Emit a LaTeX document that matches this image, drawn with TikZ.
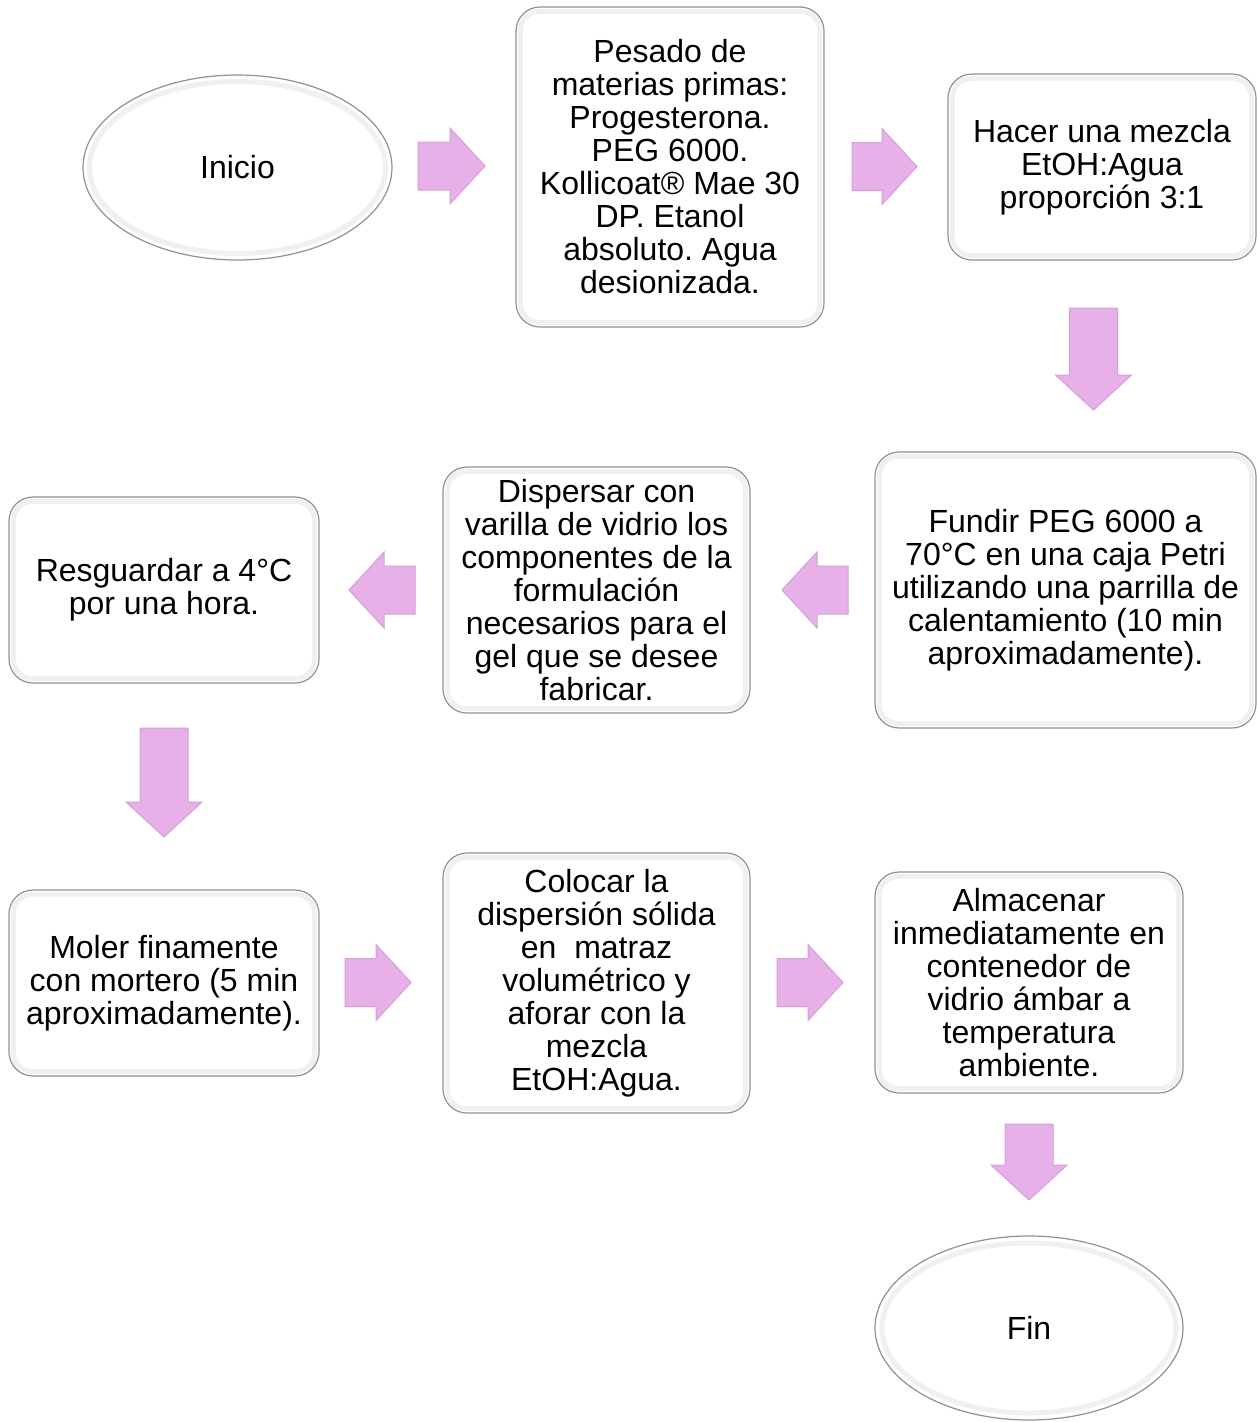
\documentclass[tikz,border=0pt]{standalone}
\usepackage{fontspec}
\setmainfont{Liberation Sans}
\usetikzlibrary{shapes.geometric,calc}
\definecolor{arrowpink}{RGB}{231,176,232}
\definecolor{arrowedge}{RGB}{212,158,214}
\definecolor{boxedge}{RGB}{145,145,145}
\newcommand\blockarr[3]{% center, angle, length
  \draw[blockarrow, shift={(#1)}, rotate=#2]
   ({-#3/2},-24) -- ({#3/2-35},-24) -- ({#3/2-35},-38) -- ({#3/2},0) --
   ({#3/2-35},38) -- ({#3/2-35},24) -- ({-#3/2},24) -- cycle;}
\newcommand\bevelbox[1]{\draw[bevel] ([shift={(5,5)}]#1.north west) rectangle ([shift={(-5,-5)}]#1.south east);}
\frenchspacing
\begin{document}
\begin{tikzpicture}[x=1pt,y=-1pt,
  every node/.style={font=\fontsize{32}{33}\selectfont\frenchspacing, align=center, text=black},
  stepbox/.style={rectangle, draw=boxedge, line width=1.2pt, fill=white, rounded corners=24pt, inner sep=0pt},
  startend/.style={ellipse, draw=boxedge, line width=1.2pt, fill=white, inner sep=0pt},
  bevel/.style={draw=black!6, line width=5pt, rounded corners=19pt},
  blockarrow/.style={fill=arrowpink, draw=arrowedge, line width=1pt, line join=miter}]
\useasboundingbox (0,0) rectangle (1257,1422);

% nodes
\node[startend, minimum width=309pt, minimum height=185pt] (inicio) at (237.5,167.5) {Inicio};
\node[stepbox, minimum width=308pt, minimum height=320pt] (pesado) at (670,167) {Pesado de\\materias primas:\\Progesterona.\\PEG 6000.\\Kollicoat® Mae 30\\DP. Etanol\\absoluto. Agua\\desionizada.};
\node[stepbox, minimum width=308pt, minimum height=186pt] (hacer) at (1102,167) {Hacer una mezcla\\EtOH:Agua\\proporción 3:1};
\node[stepbox, minimum width=381pt, minimum height=276pt] (fundir) at (1065.5,590) {Fundir PEG 6000 a\\70°C en una caja Petri\\utilizando una parrilla de\\calentamiento (10 min\\aproximadamente).};
\node[stepbox, minimum width=307pt, minimum height=246pt] (dispersar) at (596.5,590) {Dispersar con\\varilla de vidrio los\\componentes de la\\formulación\\necesarios para el\\gel que se desee\\fabricar.};
\node[stepbox, minimum width=310pt, minimum height=186pt] (resguardar) at (164,590) {Resguardar a 4°C\\por una hora.};
\node[stepbox, minimum width=310pt, minimum height=186pt] (moler) at (164,983) {Moler finamente\\con mortero (5 min\\aproximadamente).};
\node[stepbox, minimum width=307pt, minimum height=260pt] (colocar) at (596.5,983) {Colocar la\\dispersión sólida\\en\ \ matraz\\volumétrico y\\aforar con la\\mezcla\\EtOH:Agua.};
\node[stepbox, minimum width=308pt, minimum height=221pt] (almacenar) at (1029,982.5) {Almacenar\\inmediatamente en\\contenedor de\\vidrio ámbar a\\temperatura\\ambiente.};
\node[startend, minimum width=308pt, minimum height=184pt] (fin) at (1029,1328) {Fin};

% bevels
\bevelbox{pesado}
\bevelbox{hacer}
\bevelbox{fundir}
\bevelbox{dispersar}
\bevelbox{resguardar}
\bevelbox{moler}
\bevelbox{colocar}
\bevelbox{almacenar}
\draw[bevel] (inicio.center) ellipse [x radius=148pt, y radius=86pt];
\draw[bevel] (fin.center) ellipse [x radius=147pt, y radius=85pt];

% arrow positions
\coordinate (a1) at (451.5,166);
\coordinate (a2) at (884.5,166.5);
\coordinate (a3) at (1093.5,359);
\coordinate (a4) at (815,590);
\coordinate (a5) at (382,590);
\coordinate (a6) at (164,782.5);
\coordinate (a7) at (378,982.5);
\coordinate (a8) at (810,982.5);
\coordinate (a9) at (1029,1162);

\blockarr{a1}{0}{67}
\blockarr{a2}{0}{65}
\blockarr{a3}{-90}{102}
\blockarr{a4}{180}{66}
\blockarr{a5}{180}{66}
\blockarr{a6}{-90}{109}
\blockarr{a7}{0}{66}
\blockarr{a8}{0}{66}
\blockarr{a9}{-90}{76}
\end{tikzpicture}
\end{document}
